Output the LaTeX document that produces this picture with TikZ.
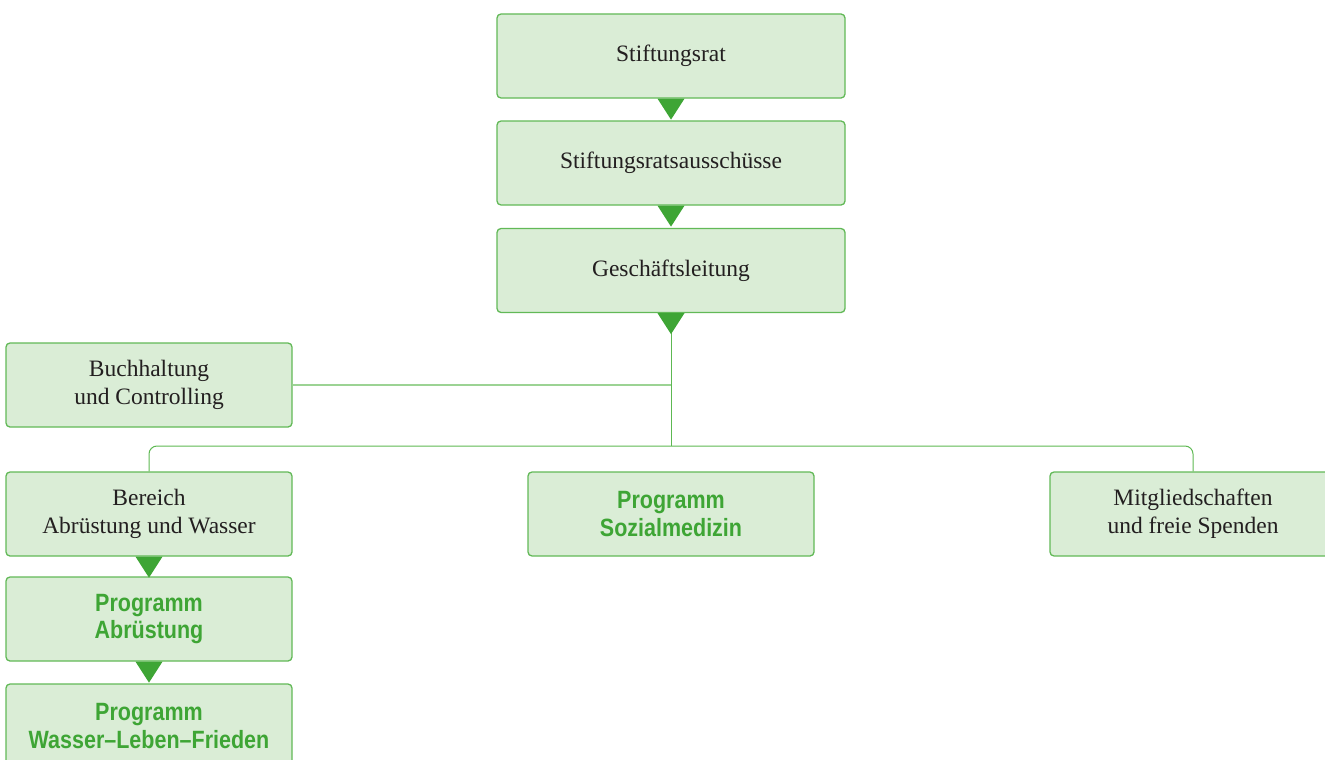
\documentclass[tikz,border=0pt]{standalone}
\usepackage{fontspec}
\setmainfont{Liberation Serif}
\newfontfamily\progfont{Liberation Sans}[FakeStretch=0.86]
\usetikzlibrary{calc}
\definecolor{boxfill}{HTML}{DAEDD6}
\definecolor{boxline}{HTML}{62B957}
\definecolor{darkgreen}{HTML}{3EA535}
\definecolor{linegreen}{HTML}{5DB852}
\definecolor{lightline}{HTML}{9CD394}
\definecolor{txt}{HTML}{231F20}
\tikzset{
  box/.style={draw=boxline, line width=1.3pt, fill=boxfill, rounded corners=4pt,
    minimum width=286pt, minimum height=84pt, align=center, inner sep=0pt,
    font=\fontsize{23.5}{28}\selectfont, text=txt},
  widebox/.style={box, minimum width=348pt},
  progbox/.style={box, font=\progfont\bfseries\fontsize{25}{27.5}\selectfont, text=darkgreen},
  conn/.style={draw=linegreen, line width=1pt},
  lightconn/.style={draw=lightline, line width=1.2pt},
  tri/.style={fill=darkgreen}
}
\newcommand{\downtri}[1]{\fill[tri] ($(#1)+(-13.5pt,0)$) -- ($(#1)+(13.5pt,0)$) -- ($(#1)+(0,-21pt)$) -- cycle;}
\begin{document}
\begin{tikzpicture}[x=1pt,y=-1pt]
\clip (0,0) rectangle (1325,760);
\node[widebox] (s1) at (671,56) {Stiftungsrat};
\node[widebox] (s2) at (671,163) {Stiftungsratsausschüsse};
\node[widebox] (s3) at (671,270.5) {Geschäftsleitung};
\node[box] (buch) at (149,385) {Buchhaltung\\und Controlling};
\node[box] (bereich) at (149,514) {Bereich\\Abrüstung und Wasser};
\node[progbox] (sozial) at (671,514) {Programm\\Sozialmedizin};
\node[box] (mitglied) at (1193,514) {Mitgliedschaften\\und freie Spenden};
\node[progbox] (abr) at (149,619) {Programm\\Abrüstung};
\node[progbox] (wasser) at (149,726) {Programm\\Wasser–Leben–Frieden};
\coordinate (hub) at (671,446);
% connectors
\draw[lightconn] (buch.east) -- (s3.south |- buch.east);
\draw[conn] (s3.south) -- (hub);
\draw[conn, rounded corners=8pt] (bereich.north) |- (hub) -| (mitglied.north);
% triangles
\downtri{s1.south}
\downtri{s2.south}
\downtri{s3.south}
\downtri{bereich.south}
\downtri{abr.south}
\end{tikzpicture}
\end{document}
